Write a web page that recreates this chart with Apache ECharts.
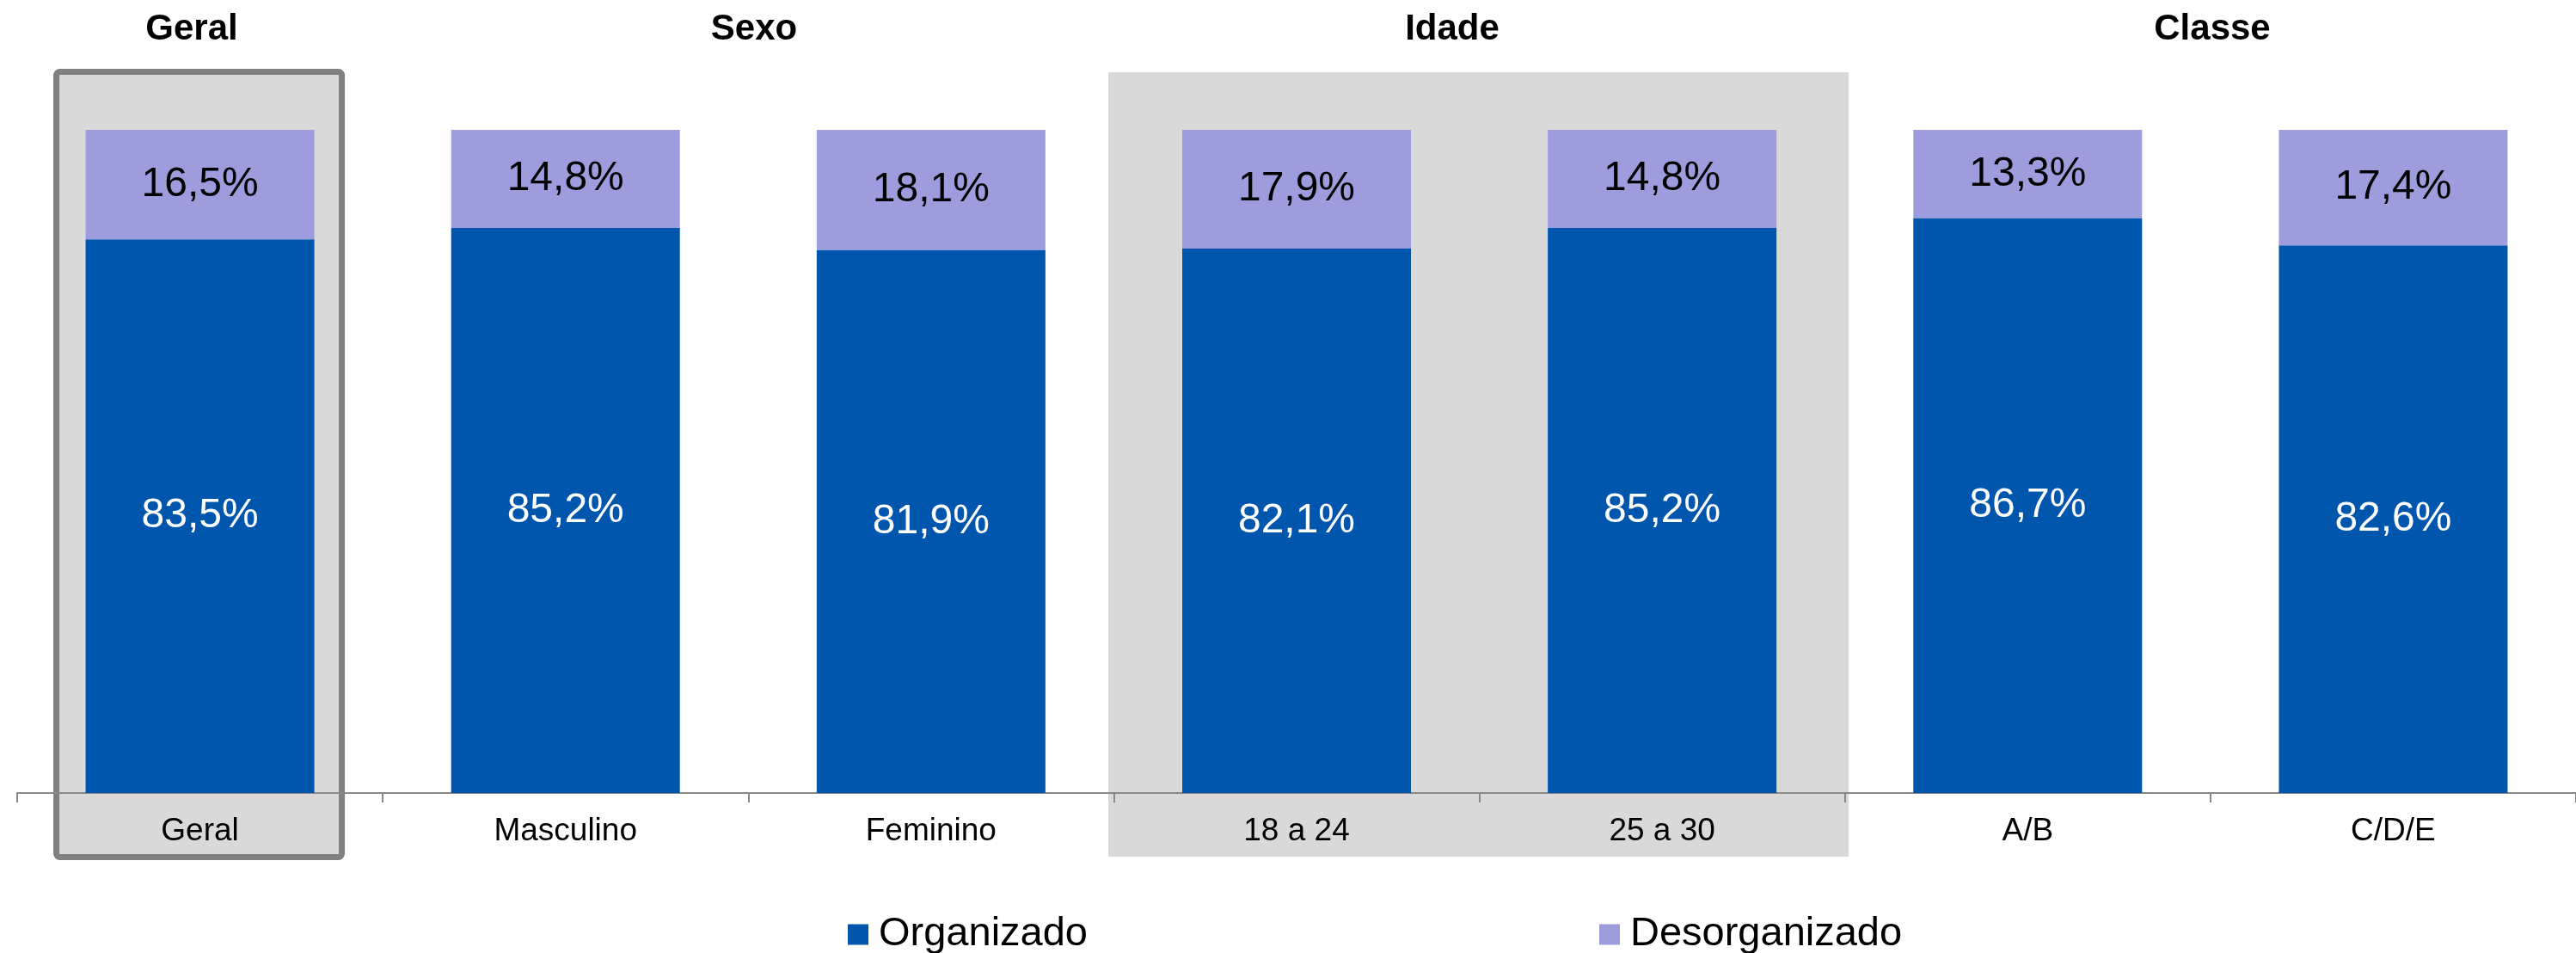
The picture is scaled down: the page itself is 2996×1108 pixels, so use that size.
<!DOCTYPE html>
<html>
<head>
<meta charset="utf-8">
<script src="https://cdn.jsdelivr.net/npm/echarts@6/dist/echarts.min.js"></script>
<style>
  html, body { margin: 0; padding: 0; background: #fff; }
  #chart { width: 2996px; height: 1108px; }
</style>
</head>
<body>
<div id="chart"></div>
<script>
// categorias e valores (%)
const categories = ['Geral', 'Masculino', 'Feminino', '18 a 24', '25 a 30', 'A/B', 'C/D/E'];
const organizado = [83.5, 85.2, 81.9, 82.1, 85.2, 86.7, 82.6];
const desorganizado = [16.5, 14.8, 18.1, 17.9, 14.8, 13.3, 17.4];
const groupTitles = ['Geral', 'Sexo', 'Idade', 'Classe'];

// posição horizontal dos títulos de grupo
const titleX = [223, 877, 1689, 2573];

const FONT = '"Liberation Sans", Arial, sans-serif';
const fmt = v => v.toFixed(1).replace('.', ',') + '%';

const chart = echarts.init(document.getElementById('chart'));

const option = {
  animation: false,
  grid: { left: 20, right: -5, top: 151, bottom: 186 },
  xAxis: {
    type: 'category',
    data: categories,
    axisLine: { lineStyle: { color: '#888', width: 2 } },
    axisTick: { show: true, length: 11, lineStyle: { color: '#888', width: 2 } },
    axisLabel: { color: '#000', fontSize: 37, fontFamily: FONT, margin: 26, interval: 0 }
  },
  yAxis: { type: 'value', min: 0, max: 100, show: false },
  legend: [
    {
      data: ['Organizado'], left: 986, top: 1063, padding: 0,
      icon: 'rect', itemWidth: 24, itemHeight: 24,
      textStyle: { fontSize: 47, fontFamily: FONT, color: '#000', padding: [0, 0, 0, 7] }
    },
    {
      data: ['Desorganizado'], left: 1860, top: 1063, padding: 0,
      icon: 'rect', itemWidth: 24, itemHeight: 24,
      textStyle: { fontSize: 47, fontFamily: FONT, color: '#000', padding: [0, 0, 0, 7] }
    }
  ],
  series: [
    {
      name: 'Organizado', type: 'bar', stack: 'total', barWidth: 266,
      data: organizado,
      itemStyle: { color: '#0055ad' },
      label: { show: true, position: 'inside', formatter: p => fmt(p.value), color: '#fff', fontSize: 48, fontFamily: FONT }
    },
    {
      name: 'Desorganizado', type: 'bar', stack: 'total', barWidth: 266,
      data: desorganizado,
      itemStyle: { color: '#9d9ddd' },
      label: { show: true, position: 'inside', formatter: p => fmt(p.value), color: '#000', fontSize: 48, fontFamily: FONT }
    }
  ]
};
chart.setOption(option);

// destaques de fundo: caixa do "Geral" e faixa de "Idade"
const cx = name => chart.convertToPixel({ xAxisIndex: 0 }, name);
const c0 = cx('Geral'), c3 = cx('18 a 24'), c4 = cx('25 a 30');

const graphics = [
  {
    type: 'rect', z: -10,
    shape: { x: c0 - 167, y: 83.5, width: 332, height: 913, r: 4 },
    style: { fill: '#d9d9d9', stroke: '#808080', lineWidth: 7 }
  },
  {
    type: 'rect', z: -10,
    shape: { x: c3 - 219, y: 84, width: c4 - c3 + 436, height: 912 },
    style: { fill: '#d9d9d9' }
  }
];
groupTitles.forEach((t, i) => {
  graphics.push({
    type: 'text', z: 10,
    style: {
      x: titleX[i], y: 34, text: t, fill: '#000',
      font: 'bold 42px ' + FONT, textAlign: 'center', textVerticalAlign: 'middle'
    }
  });
});
chart.setOption({ graphic: graphics });
</script>
</body>
</html>
